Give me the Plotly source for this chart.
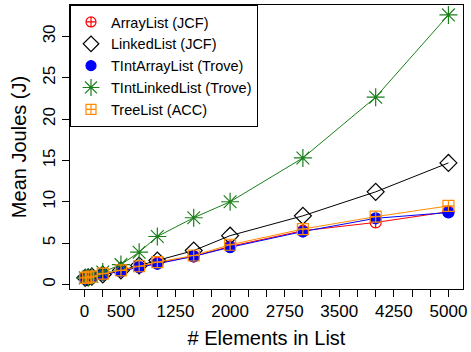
import plotly.graph_objects as go

x_vals = [10, 50, 100, 250, 500, 750, 1000, 1500, 2000, 3000, 4000, 5000]

array_list = [0.75, 0.8, 0.9, 1.2, 1.6, 2.1, 2.6, 3.4, 4.6, 6.5, 7.5, 8.8]
linked_list = [0.8, 0.85, 0.95, 1.2, 1.7, 2.3, 2.9, 4.1, 5.9, 8.3, 11.2, 14.7]
tint_array_list = [0.7, 0.78, 0.88, 1.2, 1.6, 2.1, 2.5, 3.4, 4.5, 6.4, 8.0, 8.7]
tint_linked_list = [0.8, 0.9, 1.0, 1.5, 2.4, 3.9, 5.8, 8.07, 10.0, 15.3, 22.65, 32.6]
tree_list = [0.8, 0.85, 0.95, 1.3, 1.7, 2.2, 2.7, 3.5, 4.8, 6.7, 8.2, 9.5]

series_names = ["ArrayList (JCF)", "LinkedList (JCF)", "TIntArrayList (Trove)",
                "TIntLinkedList (Trove)", "TreeList (ACC)"]
series_values = [array_list, linked_list, tint_array_list, tint_linked_list, tree_list]
colors = ["#FF0000", "#000000", "#0000FF", "#1A7F1A", "#FF8C00"]
symbols = ["circle-cross-open", "diamond-open", "circle", "asterisk-open", "square-cross-open"]
sizes = [11, 13, 11, 15, 11]

x_ticks = list(range(0, 5001, 250))
x_labels = [str(v) if v in (0, 500, 1250, 2000, 2750, 3500, 4250, 5000) else "" for v in x_ticks]
y_ticks = [0, 5, 10, 15, 20, 25, 30]

fig = go.Figure()
for name, vals, c, s, sz in zip(series_names, series_values, colors, symbols, sizes):
    fig.add_trace(go.Scatter(
        x=x_vals, y=vals, mode="lines+markers", name=name, showlegend=False,
        line=dict(color=c, width=1),
        marker=dict(symbol=s, size=sz, color=c, line=dict(color=c, width=1.2)),
    ))
for name, c, s, sz in zip(series_names, colors, symbols, sizes):
    fig.add_trace(go.Scatter(
        x=[None], y=[None], mode="markers", name=name, showlegend=True,
        marker=dict(symbol=s, size=sz - 1, color=c, line=dict(color=c, width=1.2)),
    ))

font_family = "Liberation Sans, Arial, sans-serif"
fig.update_layout(
    width=471, height=352,
    margin=dict(l=70, r=8, t=5, b=63),
    paper_bgcolor="white", plot_bgcolor="white",
    font=dict(family=font_family, color="black"),
    showlegend=True,
    legend=dict(
        x=0, y=1, xanchor="left", yanchor="top",
        bordercolor="black", borderwidth=1, bgcolor="white",
        font=dict(size=14.5, family=font_family),
        tracegroupgap=0, itemwidth=30,
    ),
    xaxis=dict(
        range=[-200, 5200], tickmode="array", tickvals=x_ticks, ticktext=x_labels,
        ticks="outside", ticklen=7, tickcolor="black", tickwidth=1,
        showline=True, linecolor="black", linewidth=1, mirror=True,
        showgrid=False, zeroline=False, automargin=False,
        tickfont=dict(size=17),
        title=dict(text="# Elements in List", font=dict(size=20), standoff=10),
    ),
    yaxis=dict(
        range=[-0.55, 33.8], tickmode="array", tickvals=y_ticks,
        ticks="outside", ticklen=7, tickcolor="black", tickwidth=1,
        showline=True, linecolor="black", linewidth=1, mirror=True,
        showgrid=False, zeroline=False, tickangle=-90, automargin=False,
        tickfont=dict(size=17),
        title=dict(text="Mean Joules (J)", font=dict(size=20), standoff=8),
    ),
)

fig.write_html("out.html", post_script="document.body.style.margin='0';",
               config={"displayModeBar": False})
